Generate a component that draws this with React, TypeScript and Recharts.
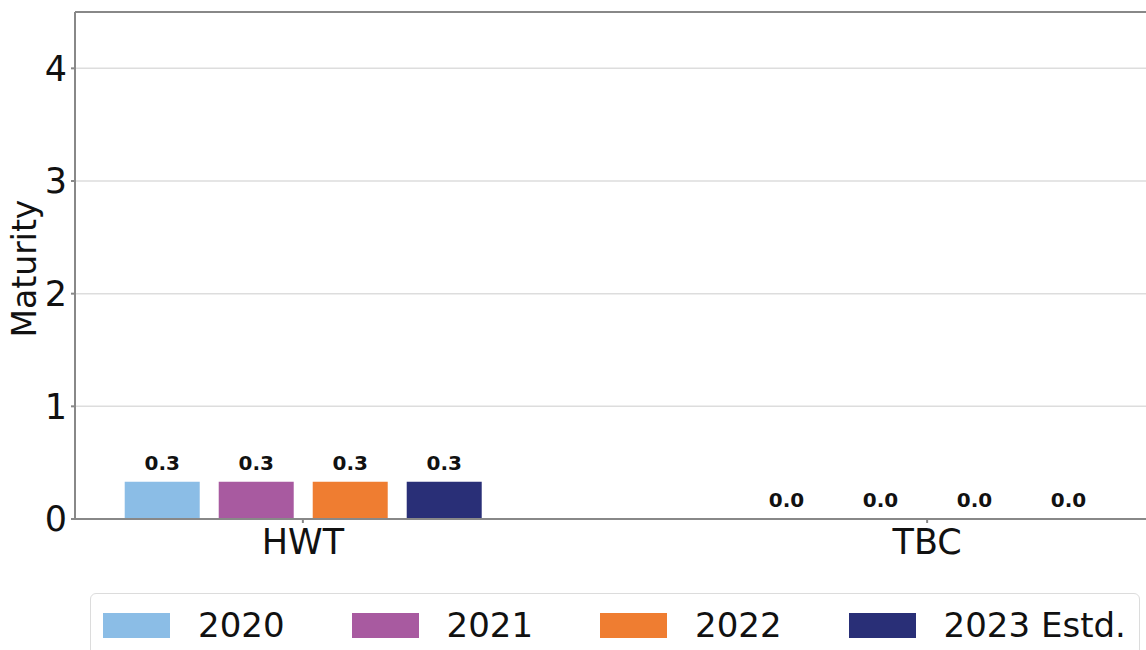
import React from "react";
import {
  BarChart,
  Bar,
  XAxis,
  YAxis,
  CartesianGrid,
  LabelList,
  ReferenceLine,
} from "recharts";

const categories = ["HWT", "TBC"];
const series = ["2020", "2021", "2022", "2023 Estd."];
const values2020 = [0.33, 0];
const values2021 = [0.33, 0];
const values2022 = [0.33, 0];
const values2023 = [0.33, 0];
const yTicks = [0, 1, 2, 3, 4];

const COLORS = ["#8bbde6", "#a85aa0", "#ef7d31", "#292f77"];
const FONT = "'DejaVu Sans', Verdana, sans-serif";

const seriesValues = [values2020, values2021, values2022, values2023];

const data = categories.map((name, i) => {
  const row: Record<string, number | string> = { x: i, name };
  series.forEach((s, j) => {
    row[s] = seriesValues[j][i];
  });
  return row;
});

function YLabel(props: any) {
  const vb = props.viewBox || { x: 0, y: 0, width: 0, height: 0 };
  const cx = vb.x + 36;
  const cy = vb.y + vb.height / 2 + 3;
  return (
    <text
      x={cx}
      y={cy}
      transform={`rotate(-90, ${cx}, ${cy})`}
      textAnchor="middle"
      fontSize={33}
      fontFamily={FONT}
      fill="#111"
    >
      Maturity
    </text>
  );
}

// draws the value above each bar, including the zero ones
function ValueLabel(props: any) {
  const { x, y, width, value } = props;
  if (x == null || y == null) return null;
  return (
    <text
      x={Number(x) + Number(width) / 2}
      y={Number(y) - 12}
      textAnchor="middle"
      fontSize={20}
      fontWeight={700}
      fontFamily={FONT}
      fill="#111"
    >
      {Number(value).toFixed(1)}
    </text>
  );
}

export default function App() {
  return (
    <div
      style={{
        position: "absolute",
        left: 0,
        top: 0,
        width: 1146,
        height: 650,
        overflow: "hidden",
        background: "#fff",
        fontFamily: FONT,
      }}
    >
      <BarChart
        width={1170}
        height={650}
        data={data}
        margin={{ top: 12, right: 15, left: 0, bottom: 71 }}
        barGap={19}
      >
        <CartesianGrid vertical={false} stroke="#dddddd" strokeWidth={1.5} />
        <XAxis
          dataKey="x"
          type="number"
          domain={[-0.365, 1.365]}
          ticks={[0, 1]}
          allowDataOverflow
          tickFormatter={(v: number) => categories[v] ?? ""}
          height={60}
          stroke="#888"
          strokeWidth={2}
          tickSize={4}
          tickMargin={6}
          tick={{ fontSize: 35, fill: "#111", fontFamily: FONT }}
        />
        <YAxis
          domain={[0, 4.5]}
          ticks={yTicks}
          width={75}
          stroke="#888"
          strokeWidth={2}
          tickSize={4}
          tickMargin={4}
          tick={{ fontSize: 35, fill: "#111", fontFamily: FONT }}
          label={<YLabel />}
        />
        <ReferenceLine y={4.5} stroke="#888" strokeWidth={2} />
        {series.map((s, j) => (
          <Bar
            key={s}
            dataKey={s}
            fill={COLORS[j]}
            barSize={75}
            minPointSize={0.01}
            isAnimationActive={false}
          >
            <LabelList dataKey={s} content={<ValueLabel />} />
          </Bar>
        ))}
      </BarChart>
      <div
        style={{
          position: "absolute",
          left: 90,
          top: 593,
          width: 1050,
          height: 80,
          border: "1.5px solid #dcdcdc",
          borderRadius: 6,
          boxSizing: "border-box",
          display: "flex",
          alignItems: "flex-start",
          paddingTop: 16,
          paddingLeft: 12,
        }}
      >
        {series.map((s, j) => (
          <div
            key={s}
            style={{
              display: "flex",
              alignItems: "center",
              flexShrink: 0,
              whiteSpace: "nowrap",
              marginRight: j < series.length - 1 ? 67 : 0,
            }}
          >
            <span
              style={{
                display: "inline-block",
                width: 67,
                height: 25,
                background: COLORS[j],
                marginRight: 28,
              }}
            />
            <span style={{ fontSize: 34, color: "#111", lineHeight: "30px" }}>
              {s}
            </span>
          </div>
        ))}
      </div>
    </div>
  );
}
